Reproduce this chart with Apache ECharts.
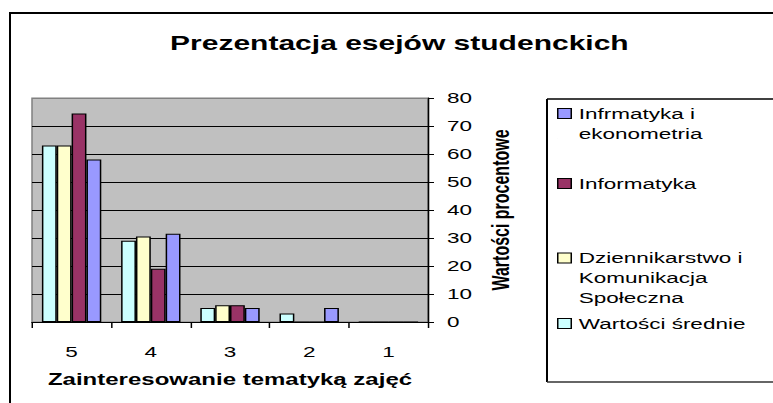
<!DOCTYPE html>
<html>
<head>
<meta charset="utf-8">
<script src="https://cdn.jsdelivr.net/npm/echarts@6/dist/echarts.min.js"></script>
<style>
html,body{margin:0;padding:0;background:#fff;overflow:hidden;}
#wrap{position:absolute;left:0;top:0;width:773px;height:403px;overflow:hidden;background:#fff;}
#c{position:absolute;left:0;top:0;width:515px;height:403px;transform:scaleX(1.50097);transform-origin:0 0;}
</style>
</head>
<body>
<div id="wrap"><div id="c"></div></div>
<script>
// ---- data ----
const categories = ['5', '4', '3', '2', '1'];
const nameAvg = 'Wartości średnie';
const nameDzien = 'Dziennikarstwo i Komunikacja Społeczna';
const nameInf = 'Informatyka';
const nameInfEk = 'Infrmatyka i ekonometria';
const avgValues = [63, 29, 5, 3, 0];
const dzienValues = [63, 30.5, 6, 0, 0];
const infValues = [74.5, 19, 6, 0, 0];
const infEkValues = [58, 31.5, 5, 5, 0];
const yMin = 0, yMax = 80, yStep = 10;
const titleText = 'Prezentacja esejów studenckich';
const xAxisName = 'Zainteresowanie tematyką zajęć';
const yAxisName = 'Wartości procentowe';
const legendLines = {};
legendLines[nameInfEk] = ['Infrmatyka i', 'ekonometria'];
legendLines[nameInf] = ['Informatyka'];
legendLines[nameDzien] = ['Dziennikarstwo i', 'Komunikacja', 'Społeczna'];
legendLines[nameAvg] = ['Wartości średnie'];

// ---- layout helpers (chart drawn narrower and stretched horizontally) ----
const W = 515, S = 773 / W;
const sx = v => v / S;
const FONT = '"Liberation Sans", Arial, sans-serif';
const LH = 20;
const MW = 9, MH = 10; // legend marker size

const chart = echarts.init(document.getElementById('c'), null, {renderer: 'svg'});

// marker square sits beside the first text line; an invisible tail extends the item height
function legendFor(name, firstLineCenter) {
  const n = legendLines[name].length;
  const h = MH + (n - 1) * LH;
  const icon = n === 1
    ? 'rect'
    : 'path://M0 0H' + MW + 'V' + MH + 'H0Z M0 ' + h + 'L0.01 ' + h;
  return {
    data: [{name: name, icon: icon}],
    left: sx(557), top: firstLineCenter - LH / 2, padding: 0,
    orient: 'vertical', itemWidth: MW, itemHeight: h, itemGap: 0,
    selectedMode: false,
    formatter: nm => legendLines[nm].join('\n'),
    textStyle: {fontFamily: FONT, fontSize: 15, color: '#000', lineHeight: LH},
    itemStyle: {borderColor: '#000', borderWidth: 1}
  };
}

const barStyle = c => ({color: c, borderColor: '#000', borderWidth: 1});
const splitColors = [];
for (let v = yMin; v <= yMax; v += yStep) splitColors.push(v === yMax ? '#808080' : '#000');

chart.setOption({
  backgroundColor: '#fff',
  animation: false,
  title: {
    text: titleText, left: sx(170), top: 33, padding: 0,
    textStyle: {fontFamily: FONT, fontSize: 20, fontWeight: 'bold', color: '#000'}
  },
  legend: [
    legendFor(nameInfEk, 113.5),
    legendFor(nameInf, 183.5),
    legendFor(nameDzien, 258),
    legendFor(nameAvg, 323.5)
  ],
  grid: {
    left: sx(32), right: W - sx(428), top: 98, bottom: 403 - 322,
    show: true, backgroundColor: '#c0c0c0', borderColor: '#808080', borderWidth: 1
  },
  xAxis: {
    type: 'category', data: categories, boundaryGap: true,
    axisLine: {lineStyle: {color: '#000', width: 1}},
    axisTick: {show: true, length: 6, lineStyle: {color: '#000'}},
    axisLabel: {margin: 22, fontFamily: FONT, fontSize: 15, color: '#000'},
    name: xAxisName, nameLocation: 'middle', nameGap: 50,
    nameTextStyle: {fontFamily: FONT, fontSize: 16, fontWeight: 'bold', color: '#000'}
  },
  yAxis: {
    type: 'value', position: 'right', min: yMin, max: yMax, interval: yStep,
    axisLine: {show: true, lineStyle: {color: '#000', width: 1}},
    axisTick: {show: true, length: sx(6), lineStyle: {color: '#000'}},
    axisLabel: {margin: sx(19), fontFamily: FONT, fontSize: 15, color: '#000'},
    splitLine: {show: true, lineStyle: {color: splitColors, width: 1}},
    name: yAxisName, nameLocation: 'middle', nameRotate: 90, nameGap: sx(60),
    nameTextStyle: {fontFamily: FONT, fontSize: 16, fontWeight: 'bold', color: '#000'}
  },
  series: [
    {name: nameAvg, type: 'bar', data: avgValues, itemStyle: barStyle('#ccffff'), barGap: 0, barCategoryGap: '25%'},
    {name: nameDzien, type: 'bar', data: dzienValues, itemStyle: barStyle('#ffffcc'), barGap: 0, barCategoryGap: '25%'},
    {name: nameInf, type: 'bar', data: infValues, itemStyle: barStyle('#993366'), barGap: 0, barCategoryGap: '25%'},
    {name: nameInfEk, type: 'bar', data: infEkValues, itemStyle: barStyle('#9999ff'), barGap: 0, barCategoryGap: '25%'}
  ],
  graphic: [
    {type: 'line', shape: {x1: sx(10), y1: 13, x2: W + 10, y2: 13}, style: {stroke: '#000', lineWidth: 2}, silent: true},
    {type: 'line', shape: {x1: sx(10), y1: 12, x2: sx(10), y2: 420}, style: {stroke: '#000', lineWidth: 2 / S}, silent: true},
    {type: 'line', shape: {x1: sx(547), y1: 99, x2: W + 10, y2: 99}, style: {stroke: '#000', lineWidth: 1.3}, silent: true},
    {type: 'line', shape: {x1: sx(547), y1: 99, x2: sx(547), y2: 382}, style: {stroke: '#000', lineWidth: 2 / S}, silent: true},
    {type: 'line', shape: {x1: sx(547), y1: 382, x2: W + 10, y2: 382}, style: {stroke: '#333', lineWidth: 1.3}, silent: true}
  ]
});
</script>
</body>
</html>
